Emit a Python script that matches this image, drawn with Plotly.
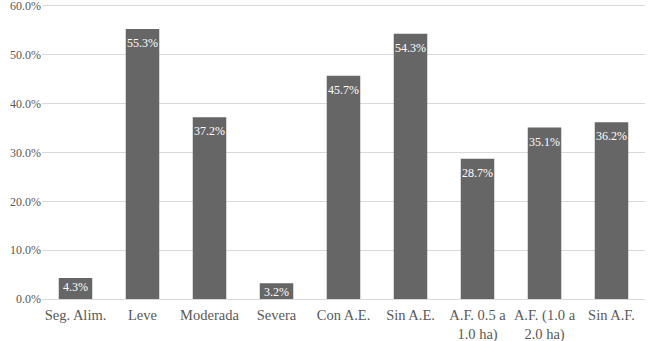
import plotly.graph_objects as go

categories = ["Seg. Alim.", "Leve", "Moderada", "Severa", "Con A.E.", "Sin A.E.",
              "A.F. 0.5 a<br>1.0 ha)", "A.F. (1.0 a<br>2.0 ha)", "Sin A.F."]
values = [4.3, 55.3, 37.2, 3.2, 45.7, 54.3, 28.7, 35.1, 36.2]
labels = [f"{v:.1f}%" for v in values]
ytickvals = [0, 10, 20, 30, 40, 50, 60]
yticktext = [f"{v:.1f}%" for v in ytickvals]

FONT = "Liberation Serif"

fig = go.Figure(go.Bar(
    x=categories, y=values,
    marker=dict(color="#666666", line=dict(width=0)),
    hoverinfo="skip",
))
# value labels placed just inside the top of each bar (Excel "inside end" style)
for cat, val, lab in zip(categories, values, labels):
    fig.add_annotation(
        x=cat, y=val, xref="x", yref="y", text=lab, showarrow=False,
        yanchor="middle", yshift=-14 if val > 10 else -9,
        font=dict(family=FONT, size=12, color="white"),
    )
fig.update_layout(
    width=651, height=341,
    margin=dict(l=42, r=6, t=4, b=42),
    paper_bgcolor="white", plot_bgcolor="white",
    bargap=0.5, showlegend=False,
    font=dict(family=FONT, size=12.5, color="#595959"),
)
fig.update_yaxes(range=[0, 60.4], tickvals=ytickvals, ticktext=yticktext,
                 showgrid=True, gridcolor="#d9d9d9", gridwidth=1,
                 zeroline=False, showline=False, ticks="", ticklen=0,
                 automargin=False, ticklabeloverflow="allow",
                 tickfont=dict(family=FONT, size=12, color="#595959"))
fig.update_xaxes(showline=True, linecolor="#d9d9d9", linewidth=1, ticks="",
                 automargin=False, ticklabeloverflow="allow", ticklabelstandoff=3,
                 tickfont=dict(family=FONT, size=14.5, color="#595959"))
fig.write_html("out.html", config={"displayModeBar": False},
               post_script="document.body.style.margin='0';document.body.style.overflow='hidden';")
